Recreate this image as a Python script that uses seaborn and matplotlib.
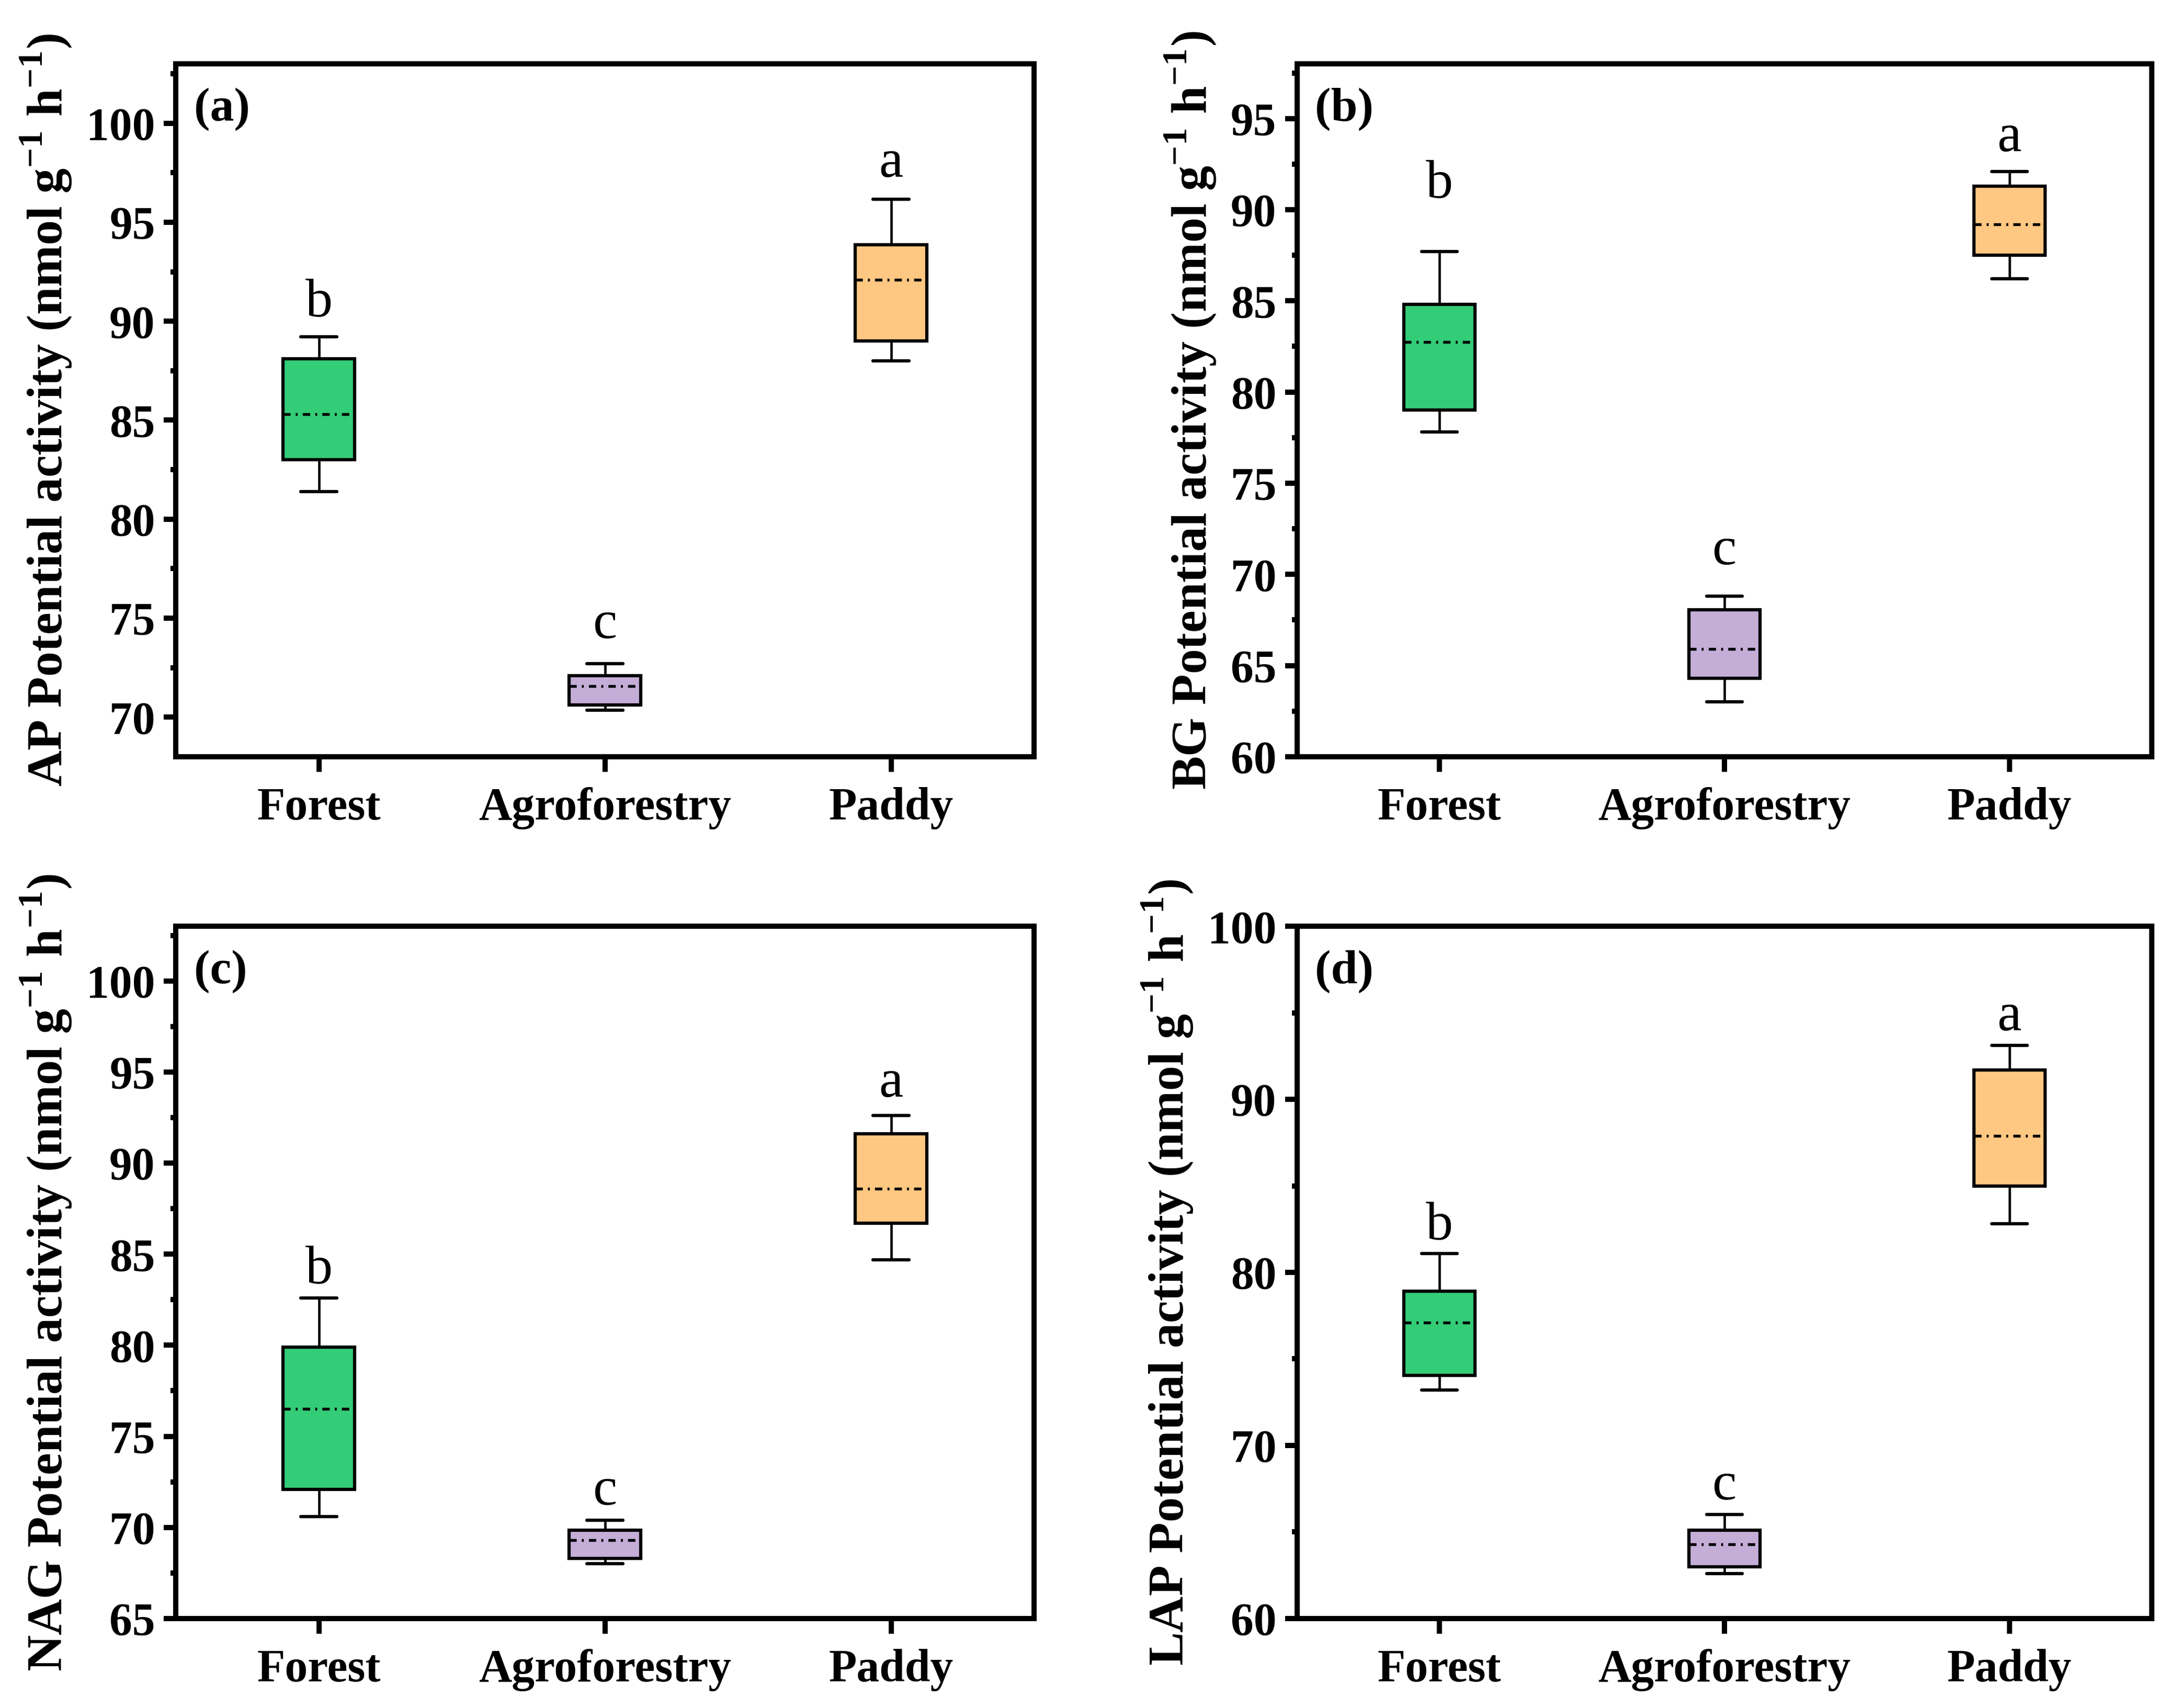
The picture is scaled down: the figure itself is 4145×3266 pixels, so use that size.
import numpy as np
import pandas as pd
import seaborn as sns
import matplotlib.pyplot as plt
from matplotlib.ticker import MultipleLocator

sns.set_style("ticks")
plt.rcParams["font.family"] = ["Liberation Serif", "DejaVu Serif"]
plt.rcParams["font.weight"] = "bold"
plt.rcParams["mathtext.fontset"] = "custom"
plt.rcParams["mathtext.rm"] = "Liberation Serif:bold"
plt.rcParams["mathtext.bf"] = "Liberation Serif:bold"
for k in ["text.color", "axes.labelcolor", "xtick.color", "ytick.color", "axes.edgecolor"]:
    plt.rcParams[k] = "black"

categories = ["Forest", "Agroforestry", "Paddy"]
colors = ["#33CC77", "#C4AED8", "#FFC882"]
sig_letters = ["b", "c", "a"]

# min, Q1, median, Q3, max
ap_forest = [81.4, 83.0, 85.3, 88.1, 89.2]
ap_agro = [70.35, 70.6, 71.55, 72.1, 72.7]
ap_paddy = [88.0, 89.0, 92.1, 93.85, 96.15]
ap_letter_y = [90.25, 74.0, 97.3]

bg_forest = [77.8, 79.0, 82.75, 84.8, 87.7]
bg_agro = [63.0, 64.3, 65.9, 68.05, 68.8]
bg_paddy = [86.2, 87.5, 89.2, 91.3, 92.1]
bg_letter_y = [90.65, 70.55, 93.2]

nag_forest = [70.6, 72.1, 76.5, 79.9, 82.6]
nag_agro = [68.0, 68.3, 69.3, 69.85, 70.4]
nag_paddy = [84.7, 86.7, 88.6, 91.6, 92.6]
nag_letter_y = [83.4, 71.25, 93.65]

lap_forest = [73.2, 74.05, 77.1, 78.9, 81.1]
lap_agro = [62.6, 63.0, 64.3, 65.1, 66.0]
lap_paddy = [82.8, 85.0, 87.9, 91.7, 93.1]
lap_letter_y = [81.9, 66.9, 94.0]

panels = [
    ("(a)", "AP", [ap_forest, ap_agro, ap_paddy], ap_letter_y, (68, 103), 5, [0.0811, 0.5570, 0.3959, 0.4056]),
    ("(b)", "BG", [bg_forest, bg_agro, bg_paddy], bg_letter_y, (60, 98), 5, [0.5983, 0.5570, 0.3942, 0.4056]),
    ("(c)", "NAG", [nag_forest, nag_agro, nag_paddy], nag_letter_y, (65, 103), 5, [0.0811, 0.0524, 0.3959, 0.4053]),
    ("(d)", "LAP", [lap_forest, lap_agro, lap_paddy], lap_letter_y, (60, 100), 10, [0.5983, 0.0524, 0.3942, 0.4053]),
]

fig = plt.figure(figsize=(4145 / 300, 3266 / 300), dpi=300)

for tag, enzyme, vals, letter_y, ylim, step, pos in panels:
    ax = fig.add_axes(pos)
    df = pd.DataFrame({
        "site": np.repeat(categories, [len(v) for v in vals]),
        "value": np.concatenate(vals),
    })
    sns.boxplot(data=df, x="site", y="value", hue="site", order=categories,
                hue_order=categories, palette=colors, saturation=1, width=0.25,
                whis=(0, 100), linecolor="black", linewidth=1.5, showfliers=False,
                legend=False,
                medianprops={"linewidth": 1.3, "linestyle": (0, (2.6, 1.8, 0.7, 1.8))},
                whiskerprops={"linewidth": 1.1},
                capprops={"linewidth": 1.5},
                ax=ax)

    for i, ly in enumerate(letter_y):
        ax.text(i, ly, sig_letters[i], ha="center", va="baseline",
                fontsize=25, fontweight="normal")

    ax.text(0.021, 0.966, tag, transform=ax.transAxes, ha="left", va="top",
            fontsize=22, fontweight="bold")

    ax.set_xlim(-0.5, 2.5)
    ax.set_ylim(*ylim)
    ax.yaxis.set_major_locator(MultipleLocator(step))
    ax.yaxis.set_minor_locator(MultipleLocator(step / 2))
    ax.set_xlabel("")
    ax.set_ylabel(enzyme + r" Potential activity (nmol g$^{\mathbf{-1}}$ h$^{\mathbf{-1}}$)",
                  fontsize=23, fontweight="bold", labelpad=6)

    for sp in ax.spines.values():
        sp.set_visible(True)
        sp.set_linewidth(2.4)
        sp.set_color("black")
    ax.tick_params(axis="y", which="major", length=5.5, width=2.4, pad=4, labelsize=21)
    ax.tick_params(axis="y", which="minor", length=2.5, width=2.4)
    ax.tick_params(axis="x", which="major", length=7, width=2.4, pad=7, labelsize=21)
    ax.tick_params(axis="x", which="minor", bottom=False)

fig.savefig("out.png", dpi=300)
